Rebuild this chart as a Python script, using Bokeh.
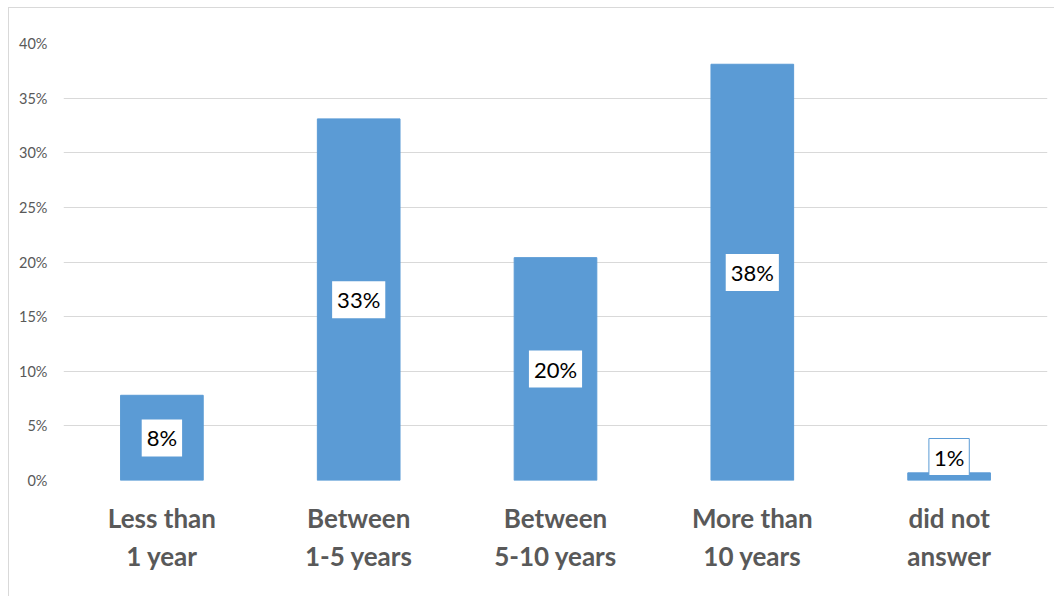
from bokeh.plotting import figure
from bokeh.models import ColumnDataSource, FactorRange, NumeralTickFormatter, FixedTicker
from bokeh.core.properties import value
from bokeh.embed import file_html
from bokeh.resources import INLINE

categories = ["Less than\n1 year", "Between\n1-5 years", "Between\n5-10 years", "More than\n10 years", "did not\nanswer"]
shares = [0.078, 0.331, 0.204, 0.381, 0.007]
labels = ["8%", "33%", "20%", "38%", "1%"]

label_y = [v / 2 if v > 0.05 else v + 0.0145 for v in shares]
borders = [None if v > 0.05 else "#5b9bd5" for v in shares]

src = ColumnDataSource(dict(x=categories, top=shares, ly=label_y, txt=labels, bc=borders))

p = figure(x_range=FactorRange(*categories), y_range=(0, 0.40),
           width=1046, height=589, output_backend="svg", toolbar_location=None,
           min_border_left=54, min_border_right=8, min_border_top=35, min_border_bottom=117)
p.margin = (7, 0, 0, 8)
p.styles = {"border-top": "1px solid #d9d9d9", "border-left": "1px solid #d9d9d9"}
p.outline_line_color = None
p.background_fill_color = "white"
p.border_fill_color = "white"

p.vbar(x="x", top="top", width=0.42, source=src, color="#5b9bd5")
p.text(x="x", y="ly", text="txt", source=src, text_align="center", text_baseline="middle",
       text_font=value("Lato"), text_font_size="22px", text_color="black",
       background_fill_color="white", border_line_color="bc", padding=5)

p.yaxis.ticker = FixedTicker(ticks=[i * 0.05 for i in range(9)])
p.yaxis.formatter = NumeralTickFormatter(format="0%")
p.yaxis.axis_line_color = None
p.yaxis.major_tick_line_color = None
p.yaxis.minor_tick_line_color = None
p.yaxis.major_label_text_color = "#595959"
p.yaxis.major_label_text_font = "Lato"
p.yaxis.major_label_text_font_size = "14.5px"
p.yaxis.major_label_standoff = 10

p.xaxis.axis_line_color = None
p.xaxis.major_tick_line_color = None
p.xaxis.major_label_text_color = "#595959"
p.xaxis.major_label_text_font = "Lato"
p.xaxis.major_label_text_font_style = "bold"
p.xaxis.major_label_text_font_size = "26px"
p.xaxis.major_label_standoff = 15

p.xgrid.grid_line_color = None
p.ygrid.grid_line_color = "#d9d9d9"
p.ygrid.grid_line_width = 1

open("out.html", "w").write(file_html(p, INLINE))
